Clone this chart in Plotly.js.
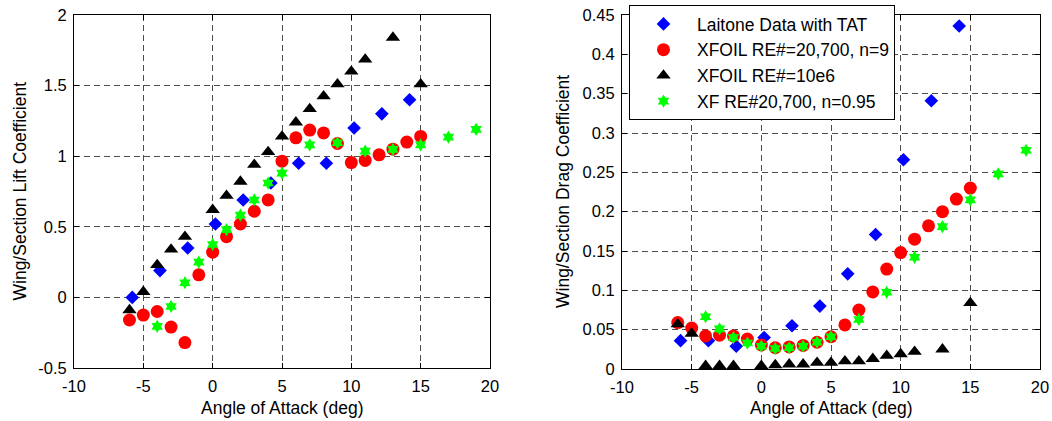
<!DOCTYPE html>
<html>
<head>
<meta charset="utf-8">
<script src="https://cdn.plot.ly/plotly-3.0.1.min.js"></script>
<style>html,body{margin:0;padding:0;background:#fff;}#chart{width:1052px;height:421px;}</style>
</head>
<body>
<div id="chart"></div>
<script>
// ---- data ----
const seriesNames = ["Laitone Data with TAT", "XFOIL RE#=20,700, n=9", "XFOIL RE#=10e6", "XF RE#20,700, n=0.95"];

const laitoneAoa = [-5.8, -3.8, -1.8, 0.2, 2.2, 4.2, 6.2, 8.2, 10.2, 12.2, 14.2];
const laitoneCl  = [0.0, 0.19, 0.35, 0.52, 0.69, 0.81, 0.95, 0.95, 1.2, 1.3, 1.4];
const laitoneCd  = [0.036, 0.036, 0.029, 0.040, 0.055, 0.080, 0.121, 0.171, 0.266, 0.341, 0.436];

const xfoilN9Aoa = [-6, -5, -4, -3, -2, -1, 0, 1, 2, 3, 4, 5, 6, 7, 8, 9, 10, 11, 12, 13, 14, 15];
const xfoilN9Cl  = [-0.16, -0.125, -0.10, -0.21, -0.32, 0.16, 0.32, 0.43, 0.52, 0.61, 0.69, 0.965, 1.13, 1.185, 1.165, 1.09, 0.955, 0.97, 1.01, 1.05, 1.10, 1.14];
const xfoilN9Cd  = [0.059, 0.052, 0.042, 0.043, 0.042, 0.038, 0.0305, 0.027, 0.028, 0.030, 0.034, 0.041, 0.056, 0.075, 0.098, 0.127, 0.148, 0.165, 0.182, 0.200, 0.216, 0.230];

const xfoilHiAoa = [-6, -5, -4, -3, -2, 0, 1, 2, 3, 4, 5, 6, 7, 8, 9, 10, 11, 13, 15];
const xfoilHiCl  = [-0.09, 0.04, 0.23, 0.34, 0.43, 0.62, 0.72, 0.82, 0.94, 1.03, 1.14, 1.24, 1.335, 1.425, 1.51, 1.60, 1.685, 1.84, 1.51];
const xfoilHiCd  = [0.057, 0.045, 0.004, 0.004, 0.004, 0.004, 0.005, 0.006, 0.006, 0.008, 0.008, 0.010, 0.010, 0.013, 0.017, 0.019, 0.022, 0.025, 0.084];

const xf095Aoa = [-4, -3, -2, -1, 0, 1, 2, 3, 4, 5, 7, 9, 11, 13, 15, 17, 19];
const xf095Cl  = [-0.205, -0.064, 0.104, 0.25, 0.375, 0.48, 0.583, 0.69, 0.81, 0.88, 1.08, 1.095, 1.036, 1.048, 1.08, 1.135, 1.19];
const xf095Cd  = [0.0665, 0.051, 0.040, 0.033, 0.029, 0.026, 0.027, 0.029, 0.034, 0.041, 0.063, 0.0975, 0.142, 0.181, 0.215, 0.248, 0.278];

const xTickVals  = [-10, -5, 0, 5, 10, 15, 20];
const xTickText  = ["-10", "-5", "0", "5", "10", "15", "20"];
const clTickVals = [-0.5, 0, 0.5, 1, 1.5, 2];
const clTickText = ["-0.5", "0", "0.5", "1", "1.5", "2"];
const cdTickVals = [0, 0.05, 0.1, 0.15, 0.2, 0.25, 0.3, 0.35, 0.4, 0.45];
const cdTickText = ["0", "0.05", "0.1", "0.15", "0.2", "0.25", "0.3", "0.35", "0.4", "0.45"];

const xTitle = "Angle of Attack (deg)";
const clTitle = "Wing/Section Lift Coefficient";
const cdTitle = "Wing/Section Drag Coefficient";

// ---- styles ----
const W = 1052, H = 421;
const FONT = "Liberation Sans, Arial, Helvetica, sans-serif";
const styles = [
  {symbol: "diamond", size: 10.5, color: "#0000ff"},
  {symbol: "circle", size: 13, color: "#ff0000"},
  {symbol: "triangle-up", size: 12.5, color: "#000000"},
  {symbol: "hexagram", size: 10, color: "#00ff00"}
];
const liftX = [laitoneAoa, xfoilN9Aoa, xfoilHiAoa, xf095Aoa];
const liftY = [laitoneCl, xfoilN9Cl, xfoilHiCl, xf095Cl];
const dragY = [laitoneCd, xfoilN9Cd, xfoilHiCd, xf095Cd];

const traces = [];
for (let i = 0; i < 4; i++) {
  const mk = {symbol: styles[i].symbol, size: styles[i].size, color: styles[i].color, line: {width: 0}};
  traces.push({type: "scatter", mode: "markers", x: liftX[i], y: liftY[i], xaxis: "x", yaxis: "y",
    marker: mk, name: seriesNames[i], showlegend: false, hoverinfo: "skip"});
}
for (let i = 0; i < 4; i++) {
  const mk = {symbol: styles[i].symbol, size: styles[i].size, color: styles[i].color, line: {width: 0}};
  traces.push({type: "scatter", mode: "markers", x: liftX[i], y: dragY[i], xaxis: "x2", yaxis: "y2",
    marker: mk, name: seriesNames[i], showlegend: true, hoverinfo: "skip"});
}

function axisBase(vals, text, range, dom, anchor) {
  return {
    range: range, domain: dom, anchor: anchor,
    tickmode: "array", tickvals: vals, ticktext: text,
    ticks: "inside", ticklen: 5, tickcolor: "#000", tickwidth: 1,
    showline: true, linecolor: "#000", linewidth: 1, mirror: "ticks",
    showgrid: true, gridcolor: "#4d4d4d", gridwidth: 1, griddash: "6px,4px",
    zeroline: false, fixedrange: true,
    tickfont: {family: FONT, size: 16.5, color: "#000"}
  };
}

const px = v => v / W;
const py = v => 1 - v / H;

const layout = {
  width: W, height: H,
  margin: {l: 0, r: 0, t: 0, b: 0, pad: 0},
  paper_bgcolor: "#fff", plot_bgcolor: "#fff",
  showlegend: true,
  font: {family: FONT, color: "#000"},
  xaxis: Object.assign(axisBase(xTickVals, xTickText, [-10, 20], [px(74), px(490)], "y"), {ticklabelstandoff: 3}),
  yaxis: Object.assign(axisBase(clTickVals, clTickText, [-0.5, 2], [py(368), py(15)], "x"), {ticklabelstandoff: 3}),
  xaxis2: Object.assign(axisBase(xTickVals, xTickText, [-10, 20], [px(622), px(1040)], "y2"), {ticklabelstandoff: 3}),
  yaxis2: Object.assign(axisBase(cdTickVals, cdTickText, [0, 0.45], [py(369), py(15)], "x2"), {ticklabelstandoff: 3}),
  legend: {
    x: px(629), y: py(5), xanchor: "left", yanchor: "top",
    bgcolor: "#fff", bordercolor: "#000", borderwidth: 1,
    font: {family: FONT, size: 17.5, color: "#000"},
    tracegroupgap: 0,
    itemwidth: 57, itemclick: false, itemdoubleclick: false
  },
  annotations: [
    {text: xTitle, xref: "paper", yref: "paper", x: px(282), y: py(408), xanchor: "center", yanchor: "middle", showarrow: false, font: {family: FONT, size: 17.5}},
    {text: xTitle, xref: "paper", yref: "paper", x: px(831), y: py(408), xanchor: "center", yanchor: "middle", showarrow: false, font: {family: FONT, size: 17.5}},
    {text: clTitle, xref: "paper", yref: "paper", x: px(19), y: py(191.5), xanchor: "center", yanchor: "middle", textangle: -90, showarrow: false, font: {family: FONT, size: 17.5}},
    {text: cdTitle, xref: "paper", yref: "paper", x: px(563), y: py(192), xanchor: "center", yanchor: "middle", textangle: -90, showarrow: false, font: {family: FONT, size: 17.5}}
  ]
};

Plotly.newPlot("chart", traces, layout, {displayModeBar: false, staticPlot: true});
</script>
</body>
</html>
